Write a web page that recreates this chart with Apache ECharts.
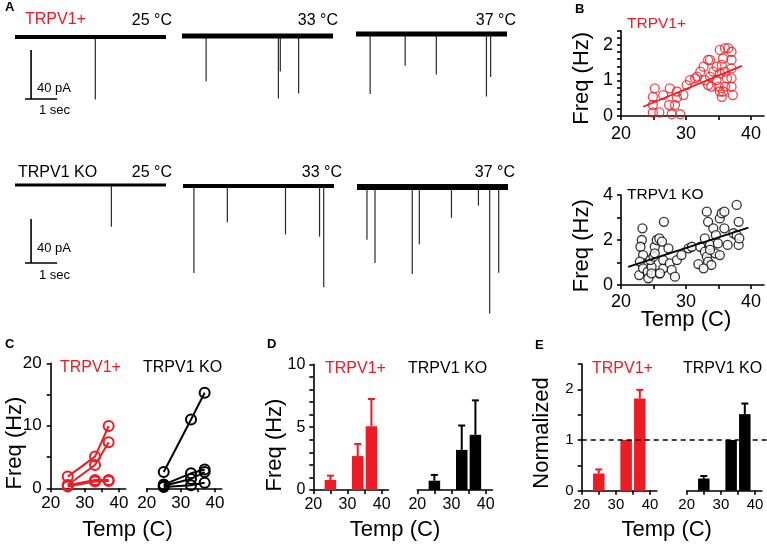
<!DOCTYPE html>
<html>
<head>
<meta charset="utf-8">
<script src="https://cdn.jsdelivr.net/npm/echarts@6/dist/echarts.min.js"></script>
<style>
  html, body { margin: 0; padding: 0; background: #fff; }
  #chart { width: 767px; height: 548px; }
</style>
</head>
<body>
<div id="chart"></div>
<script>
var RED = '#ed1c24';
var INK = '#000';
var FONT = '"Liberation Sans", Arial, sans-serif';

// A: example traces, events as time (s) and amplitude (pA)
var traceTemps = ['25 °C', '33 °C', '37 °C'];
var traceSec = 4.7;
var wtEventT = [[2.5], [0.75, 3.0, 3.06, 3.63], [0.44, 1.53, 2.5, 4.06, 4.19]];
var wtEventA = [[-51], [-37, -51, -29, -47], [-49, -26, -33, -51, -35]];
var koEventT = [[3.0], [0.34, 1.38, 3.19, 4.25, 4.38], [0.31, 0.56, 1.72, 1.94, 2.94, 3.78, 4.13, 4.41]];
var koEventA = [[-38], [-79, -33, -44, -46, -92], [-48, -69, -79, -52, -28, -17, -115, -78]];
var scaleBarPA = 40, scaleBarSec = 1;

// B: frequency vs temperature, single cells
var wtTemp = [25.2, 24.9, 24.9, 24.9, 25.9, 26.5, 27.5, 27.4, 27.8, 28.6, 28.6, 28.3, 29.1, 30.6, 31.4, 32.2, 31.7, 32.7, 32.9, 33.4,
  33.7, 34.2, 33.7, 33.9, 33.4, 34.7, 34.7, 35.0, 35.2, 35.5, 35.2, 35.7, 36.0, 36.5, 36.0, 36.3, 36.0, 35.7, 37.0, 37.0,
  37.0, 37.0, 37.0, 37.2, 35.2, 35.5, 30.1, 29.6];
var wtFreq = [0.78, 0.54, 0.31, 0.10, 0.10, 0.59, 0.78, 0.31, 0.05, 0.69, 0.52, 0.31, 0.05, 1.01, 1.06, 1.25, 1.11, 1.39, 1.01, 1.58,
  1.58, 1.25, 1.11, 0.83, 0.87, 1.39, 1.01, 0.83, 0.69, 0.54, 1.86, 1.62, 1.91, 1.91, 1.25, 1.06, 0.83, 0.69, 1.81, 1.58,
  1.34, 1.06, 0.83, 0.59, 1.2, 1.44, 0.87, 0.59];
var wtFitTemp = [23.4, 38.6], wtFitFreq = [0.26, 1.41];
var koTemp = [23.3, 23.2, 23.0, 23.4, 22.9, 22.8, 23.4, 24.1, 24.2, 24.7, 24.5, 25.0, 25.2, 25.5, 25.9, 26.3, 25.2, 25.9, 26.5, 26.6,
  27.3, 26.5, 27.5, 27.8, 28.3, 28.6, 29.3, 30.4, 30.9, 31.9, 32.2, 33.2, 33.4, 32.9, 32.9, 33.2, 33.4, 33.9, 33.7, 34.2,
  34.5, 34.6, 35.2, 35.5, 35.9, 34.9, 35.2, 35.9, 36.4, 37.3, 37.8, 38.1, 38.1, 37.8, 32.7, 33.7, 38.2, 24.7, 26.0];
var koFreq = [2.52, 2.0, 1.70, 1.33, 1.04, 0.44, 0.74, 0.59, 0.30, 0.81, 1.11, 1.26, 1.70, 2.0, 2.07, 1.93, 1.41, 0.52, 0.74, 2.81,
  1.63, 1.11, 0.96, 0.67, 0.37, 1.11, 1.33, 1.63, 1.70, 0.93, 1.70, 3.26, 2.81, 2.07, 1.48, 1.26, 1.04, 0.89, 1.78, 2.52,
  1.41, 2.22, 2.96, 3.19, 3.26, 1.85, 1.33, 2.52, 1.78, 2.30, 3.56, 2.81, 1.78, 2.22, 0.74, 1.56, 2.07, 0.52, 0.52];
var koFitTemp = [21.1, 39.6], koFitFreq = [0.81, 2.55];

// C: paired cells at 25 / 33 / 37 C
var cellTemps = [25, 33, 37];
var wtCells = [[1.87, 5.07, 9.97], [0.53, 3.73, 7.36], [0.5, 1.33, 1.33], [0.27, 1.07, 1.17]];
var koCells = [[2.6, 11.0, 15.3], [0.6, 2.4, 3.0], [0.4, 1.5, 2.6], [0.2, 0.5, 0.9]];

// D, E: means + SEM
var wtMean = [0.8, 2.7, 5.07], wtSem = [0.34, 0.96, 2.17];
var koMean = [0.74, 3.19, 4.39], koSem = [0.46, 1.94, 2.74];
var wtNorm = [0.34, 1, 1.82], wtNormSem = [0.08, 0, 0.17];
var koNorm = [0.24, 1, 1.51], koNormSem = [0.05, 0, 0.21];
var refLevel = 1;

// ticks
var tempTicks = [20, 25, 30, 35, 40], tempLabels = [20, 30, 40];
var bTopTicks = [0, 0.2, 0.4, 0.6, 0.8, 1, 1.2, 1.4, 1.6, 1.8, 2, 2.2, 2.4], bTopLabels = [0, 1, 2];
var bBotTicks = [0, 1, 2, 3, 4], bBotLabels = [0, 2, 4];
var cTicks = [0, 5, 10, 15, 20], cLabels = [0, 10, 20];
var dTicks = [0, 1, 2, 3, 4, 5, 6, 7, 8, 9, 10], dLabels = [0, 5, 10];
var eTicks = [0, 0.5, 1, 1.5, 2, 2.5], eLabels = [0, 1, 2];

var grids = [], xAxes = [], yAxes = [], series = [], graphics = [];

function zip(a, b) { return a.map(function (v, i) { return [v, b[i]]; }); }

function addGrid(box, xAxis, yAxis) {
  var i = grids.length;
  grids.push(box);
  xAxis.gridIndex = i; yAxis.gridIndex = i;
  xAxes.push(xAxis); yAxes.push(yAxis);
  return i;
}

function hiddenAxis(min, max) {
  return { type: 'value', min: min, max: max, show: false };
}

function plotAxis(min, max, ticks, labels, fs, visible, margin) {
  return {
    type: 'value', min: min, max: max,
    axisLine: { show: visible, onZero: false, lineStyle: { color: INK, width: 1.6 } },
    axisTick: { show: visible, length: 4, customValues: ticks, lineStyle: { color: INK, width: 1.6 } },
    axisLabel: { show: visible, customValues: labels, fontSize: fs, fontFamily: FONT, color: INK, margin: margin || 7 },
    splitLine: { show: false }
  };
}

function label(x, y, text, o) {
  o = o || {};
  graphics.push({
    type: 'text', x: x, y: y, rotation: o.rot || 0, silent: true,
    style: {
      text: text, fill: o.color || INK,
      font: (o.bold ? 'bold ' : '') + (o.size || 16) + 'px ' + FONT,
      textAlign: o.align || 'left', textVerticalAlign: 'middle'
    }
  });
}

// ---- A
function addTrace(box, yMin, band, times, amps) {
  var g = addGrid(box, hiddenAxis(0, traceSec), hiddenAxis(yMin, 0));
  series.push({ type: 'line', xAxisIndex: g, yAxisIndex: g, data: [[0, 0], [traceSec, 0]], symbol: 'none',
    clip: false, silent: true, lineStyle: { color: INK, width: band } });
  series.push({ type: 'bar', xAxisIndex: g, yAxisIndex: g, barWidth: 1.2, silent: true,
    data: zip(times, amps), itemStyle: { color: '#2a2a2a' } });
  return g;
}

function addScaleBar(g, t0, top) {
  series.push({ type: 'line', xAxisIndex: g, yAxisIndex: g, symbol: 'none', silent: true, clip: false,
    data: [[t0, top], [t0, top - scaleBarPA], [t0 - 0.19, top - scaleBarPA], [t0 - 0.19 + scaleBarSec, top - scaleBarPA]],
    lineStyle: { color: INK, width: 1.6 } });
}

var rowA = [
  { lefts: [15, 182, 356], tops: [37, 36, 34], h: 98, yMin: -80, bands: [4, 5, 5], t: wtEventT, a: wtEventA },
  { lefts: [15, 183, 357], tops: [185, 186, 187], h: 132, yMin: -120, bands: [3, 4, 6], t: koEventT, a: koEventA }
];
rowA.forEach(function (r, ri) {
  for (var k = 0; k < 3; k++) {
    var g = addTrace({ left: r.lefts[k], top: r.tops[k], width: 151, height: r.h }, r.yMin, r.bands[k], r.t[k], r.a[k]);
    if (k === 0) addScaleBar(g, 0.5, ri === 0 ? -10.6 : -30.9);
  }
});
label(5, 7, 'A', { bold: true, size: 13 });
label(25, 20, 'TRPV1+', { color: RED });
label(18, 173, 'TRPV1 KO');
[[172, 338, 516], [172, 342, 515]].forEach(function (xs, ri) {
  xs.forEach(function (x, k) { label(x, ri === 0 ? 21 : 173, traceTemps[k], { align: 'right' }); });
});
label(37, 88, '40 pA', { size: 13 });
label(39, 110, '1 sec', { size: 13 });
label(37, 248, '40 pA', { size: 13 });
label(39, 275, '1 sec', { size: 13 });

// ---- B
var gB1 = addGrid({ left: 621, top: 30.8, width: 143, height: 85.2 },
  plotAxis(20, 42, tempTicks, tempLabels, 18, true, 9), plotAxis(0, 2.4, bTopTicks, bTopLabels, 18, true, 8));
series.push({ type: 'scatter', xAxisIndex: gB1, yAxisIndex: gB1, data: zip(wtTemp, wtFreq), symbol: 'circle', symbolSize: 9,
  itemStyle: { color: 'rgba(255,255,255,0)', borderColor: RED, borderWidth: 1.3 } });
series.push({ type: 'line', xAxisIndex: gB1, yAxisIndex: gB1, data: zip(wtFitTemp, wtFitFreq), symbol: 'none',
  lineStyle: { color: RED, width: 1.8 } });

var gB2 = addGrid({ left: 621, top: 195, width: 143, height: 90 },
  plotAxis(20, 42, tempTicks, tempLabels, 18, true, 8), plotAxis(0, 4, bBotTicks, bBotLabels, 18, true, 8));
series.push({ type: 'line', xAxisIndex: gB2, yAxisIndex: gB2, data: zip(koFitTemp, koFitFreq), symbol: 'none',
  lineStyle: { color: INK, width: 1.8 } });
series.push({ type: 'scatter', xAxisIndex: gB2, yAxisIndex: gB2, data: zip(koTemp, koFreq), symbol: 'circle', symbolSize: 9,
  itemStyle: { color: '#fff', borderColor: INK, borderWidth: 1.3 } });

label(575, 9, 'B', { bold: true, size: 13 });
label(627, 24, 'TRPV1+', { color: RED, size: 15.5 });
label(627, 195, 'TRPV1 KO', { size: 15.5 });
label(581.7, 78.3, 'Freq (Hz)', { size: 22, align: 'center', rot: Math.PI / 2 });
label(581.7, 245.7, 'Freq (Hz)', { size: 22, align: 'center', rot: Math.PI / 2 });
label(686, 320, 'Temp (C)', { size: 22, align: 'center' });

// ---- C
[[50.7, wtCells, RED, true], [146.7, koCells, INK, false]].forEach(function (p) {
  var g = addGrid({ left: p[0], top: 363.3, width: 75, height: 125 },
    plotAxis(20, 42, tempTicks, tempLabels, 17, true), plotAxis(0, 20, cTicks, cLabels, 17, p[3], 9));
  p[1].forEach(function (cell) {
    series.push({ type: 'line', xAxisIndex: g, yAxisIndex: g, data: zip(cellTemps, cell), symbol: 'circle', symbolSize: 10,
      lineStyle: { color: p[2], width: 2 }, itemStyle: { color: 'rgba(255,255,255,0)', borderColor: p[2], borderWidth: 2 } });
  });
});
label(5, 344, 'C', { bold: true, size: 13 });
label(60, 368, 'TRPV1+', { color: RED });
label(143, 368, 'TRPV1 KO');
label(15, 443, 'Freq (Hz)', { size: 22, align: 'center', rot: Math.PI / 2 });
label(127.5, 530, 'Temp (C)', { size: 22, align: 'center' });

// ---- D, E bars with SEM
function errRender(color) {
  return function (params, api) {
    var x = api.value(0), m = api.value(1), e = api.value(2);
    if (!e) return null;
    var p0 = api.coord([x, m]), p1 = api.coord([x, m + e]);
    return { type: 'group', children: [
      { type: 'line', shape: { x1: p0[0], y1: p0[1], x2: p1[0], y2: p1[1] }, style: { stroke: color, lineWidth: 2 } },
      { type: 'line', shape: { x1: p1[0] - 3.5, y1: p1[1], x2: p1[0] + 3.5, y2: p1[1] }, style: { stroke: color, lineWidth: 2 } }
    ] };
  };
}

function addBars(g, mean, sem, color) {
  series.push({ type: 'bar', xAxisIndex: g, yAxisIndex: g, data: zip(cellTemps, mean), barWidth: 11.5,
    itemStyle: { color: color } });
  series.push({ type: 'custom', xAxisIndex: g, yAxisIndex: g, coordinateSystem: 'cartesian2d',
    data: cellTemps.map(function (t, i) { return [t, mean[i], sem[i]]; }), renderItem: errRender(color) });
}

[[313.3, wtMean, wtSem, RED, true], [417.3, koMean, koSem, INK, false]].forEach(function (p) {
  var g = addGrid({ left: p[0], top: 364.3, width: 75.2, height: 125.7 },
    plotAxis(20, 42, tempTicks, tempLabels, 16, true), plotAxis(0, 10, dTicks, dLabels, 16, p[4], 8));
  addBars(g, p[1], p[2], p[3]);
});
label(267, 344, 'D', { bold: true, size: 13 });
label(325, 369, 'TRPV1+', { color: RED });
label(408, 369, 'TRPV1 KO');
label(275, 445, 'Freq (Hz)', { size: 22, align: 'center', rot: Math.PI / 2 });
label(395, 530, 'Temp (C)', { size: 22, align: 'center' });

var gRef = addGrid({ left: 581.7, right: 0, top: 364, height: 126.7 }, hiddenAxis(0, 1), hiddenAxis(0, 2.5));
series.push({ type: 'line', xAxisIndex: gRef, yAxisIndex: gRef, data: [[0, refLevel], [1, refLevel]], symbol: 'none',
  silent: true, lineStyle: { color: INK, width: 1.5, type: [5, 4] } });

[[581.7, wtNorm, wtNormSem, RED, true], [686.7, koNorm, koNormSem, INK, false]].forEach(function (p) {
  var g = addGrid({ left: p[0], top: 364, width: 75.2, height: 126.7 },
    plotAxis(20, 42, tempTicks, tempLabels, 15, true), plotAxis(0, 2.5, eTicks, eLabels, 15, p[4], 8));
  addBars(g, p[1], p[2], p[3]);
});
label(535, 345, 'E', { bold: true, size: 13 });
label(592, 369, 'TRPV1+', { color: RED });
label(683, 369, 'TRPV1 KO');
label(541.7, 433, 'Normalized', { size: 22, align: 'center', rot: Math.PI / 2 });
label(666.7, 530, 'Temp (C)', { size: 22, align: 'center' });

var chart = echarts.init(document.getElementById('chart'));
chart.setOption({
  animation: false,
  backgroundColor: '#fff',
  grid: grids,
  xAxis: xAxes,
  yAxis: yAxes,
  series: series,
  graphic: { elements: graphics }
});
</script>
</body>
</html>
